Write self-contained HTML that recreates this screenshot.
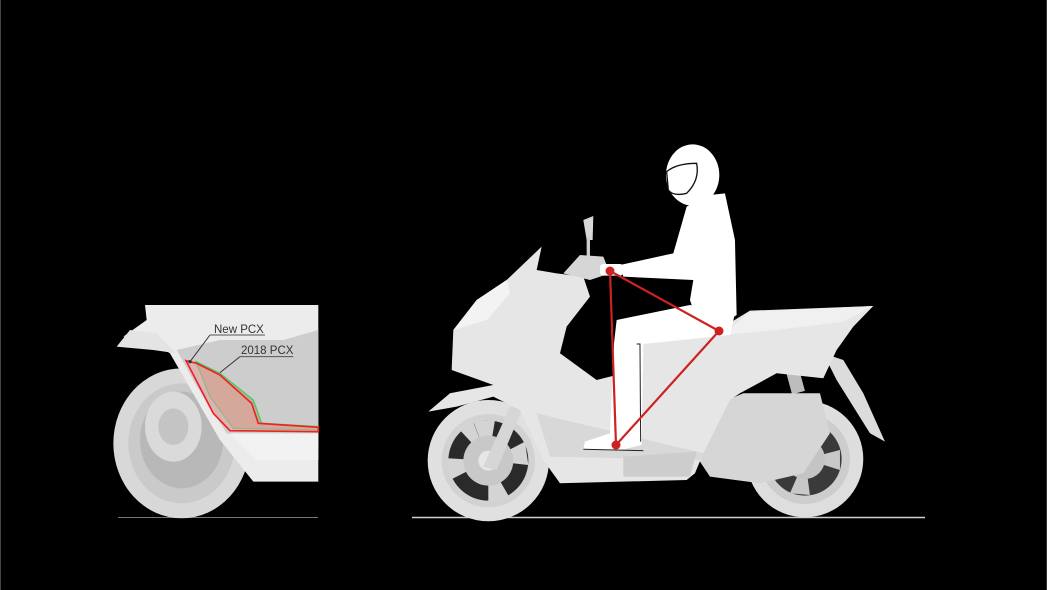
<!DOCTYPE html>
<html><head><meta charset="utf-8"><style>
html,body{margin:0;padding:0;background:#000;}
svg{display:block;}
</style></head><body>
<svg width="1047" height="590" viewBox="0 0 1047 590" xmlns="http://www.w3.org/2000/svg">
<rect width="1047" height="590" fill="#000"/>
<rect x="0" y="0" width="1" height="590" fill="#444"/>
<rect x="1046" y="0" width="1" height="590" fill="#333"/>

<line x1="412" y1="517.5" x2="925" y2="517.5" stroke="#cfcfcf" stroke-width="1.5"/>
<line x1="118" y1="517.5" x2="318" y2="517.5" stroke="#777" stroke-width="1"/>

<g transform="translate(410,140) scale(0.3333)">
  <path d="M1240,640 L1300,660 L1360,760 L1425,905 L1380,880 L1330,800 L1280,720 Z" fill="#dcdcdc"/>
  <rect x="1130" y="650" width="40" height="110" fill="#bdbdbd" transform="rotate(-15 1150 700)"/>
  <!-- rear wheel -->
  <circle cx="1185" cy="957" r="175" fill="#dedede"/>
  <circle cx="1185" cy="957" r="135" fill="#cdcdcd"/>
  <circle cx="1185" cy="957" r="110" fill="#3a3a3a"/>
  <g fill="#c8c8c8">
    <polygon points="1185,957 1140,850 1200,845"/>
    <polygon points="1185,957 1290,930 1290,990"/>
    <polygon points="1185,957 1200,1065 1140,1060"/>
    <polygon points="1185,957 1080,990 1080,930"/>
  </g>
  <circle cx="1185" cy="957" r="60" fill="#c4c4c4"/>
  <!-- front wheel -->
  <circle cx="235" cy="962" r="182" fill="#e0e0e0"/>
  <circle cx="235" cy="962" r="140" fill="#d2d2d2"/>
  <circle cx="235" cy="962" r="120" fill="#2a2a2a"/>
  <g fill="#d4d4d4">
    <polygon points="235,962 190,845 255,840"/>
    <polygon points="235,962 345,905 355,975"/>
    <polygon points="235,962 300,1075 235,1085"/>
    <polygon points="235,962 120,1020 112,955"/>
    <polygon points="235,962 140,860 185,835"/>
  </g>
  <circle cx="235" cy="962" r="75" fill="#c8c8c8"/>
  <circle cx="235" cy="962" r="30" fill="#e6e6e6"/>
  <polygon points="300,800 340,800 260,990 220,980" fill="#d6d6d6"/>
  <!-- engine -->
  <path d="M860,820 L1000,760 L1230,760 L1260,880 L1180,1000 L1050,1030 L900,1010 L860,950 Z" fill="#d6d6d6"/>
  <!-- main body -->
  <path d="M55,815 L120,760 L250,735 L125,690 L130,570 L200,480 L290,420 L395,320 L380,390 L440,400 L520,410 L540,470 L470,560 L450,640 L560,720 L640,700 L690,612 L900,585 L1020,512 L1390,498 L1330,560 L1280,630 L1240,715 L1100,700 L990,760 L960,780 L880,940 L855,1000 L830,1020 L450,1030 L400,960 L330,810 L250,770 L140,800 Z" fill="#e6e6e6"/>
  <path d="M380,820 L880,940 L870,960 L420,950 Z" fill="#d8d8d8"/>
  <path d="M640,950 L860,935 L840,1010 L640,1010 Z" fill="#cdcdcd"/>
  <path d="M130,570 L200,480 L290,420 L300,460 L230,540 Z" fill="#f3f3f3"/>
  <path d="M940,585 L1020,515 L1390,498 L1300,545 L1100,570 Z" fill="#f0f0f0"/>
  <polygon points="520,240 550,228 548,300 530,300" fill="#d8d8d8"/>
  <rect x="530" y="290" width="10" height="70" fill="#cfcfcf"/>
  <polygon points="460,400 510,345 580,350 600,400 540,420" fill="#d6d6d6"/>

  <!-- RIDER -->
  <path d="M830,200 L900,165 L945,160 L975,300 L980,525 L950,545 L850,510 L840,480 L850,420 L640,410 L630,375 L790,340 Z" fill="#fff"/>
  <path d="M620,540 L840,495 L975,520 L960,585 L700,612 L695,915 L625,932 L520,928 L525,905 L600,880 L612,610 Z" fill="#fff"/>
  <path d="M680,612 L690,612 L692,905" stroke="#222" stroke-width="3" fill="none"/>
  <path d="M520,928 L700,932" stroke="#222" stroke-width="3" fill="none"/>
  <ellipse cx="848" cy="105" rx="80" ry="92" fill="#fff"/>
  <path d="M770,95 Q800,70 860,70 Q870,120 830,160 Q790,170 775,150 Z" fill="#fff" stroke="#111" stroke-width="4"/>
  <rect x="570" y="372" width="70" height="35" rx="10" fill="#fff"/>
</g>

<g stroke="#cc2222" stroke-width="2.2" fill="none">
  <line x1="610" y1="271" x2="616" y2="445"/>
  <line x1="610" y1="271" x2="719" y2="331"/>
  <line x1="719" y1="331" x2="616" y2="445"/>
</g>
<g fill="#cc2222">
  <circle cx="610" cy="271" r="4.5"/>
  <circle cx="719" cy="331" r="4.5"/>
  <circle cx="616" cy="445" r="4.5"/>
</g>

<!-- INSET -->
<g transform="translate(110,300) scale(0.3333)">
  <ellipse cx="215" cy="430" rx="205" ry="225" fill="#d8d8d8"/>
  <ellipse cx="215" cy="430" rx="160" ry="180" fill="#cacaca"/>
  <ellipse cx="215" cy="420" rx="125" ry="145" fill="#b8b8b8"/>
  <ellipse cx="190" cy="380" rx="85" ry="105" fill="#dadada"/>
  <ellipse cx="190" cy="380" rx="45" ry="55" fill="#c4c4c4"/>
  <path d="M105,15 L625,15 L625,545 L430,545 L330,420 L180,160 L120,120 L40,110 L110,60 Z" fill="#ececec"/>
  <path d="M20,140 L60,90 L140,100 L200,160 L130,150 Z" fill="#e4e4e4"/>
  <path d="M200,150 L330,120 L520,120 L625,90 L625,440 L350,400 L255,250 Z" fill="#cdcdcd"/>
  <path d="M360,400 L625,400 L625,480 L440,480 Z" fill="#f2f2f2"/>
  <path d="M258,185 L330,220 L430,300 L455,370 L625,380 L625,390 L370,385 L300,290 Z" fill="#b8ad8a" fill-opacity="0.8" stroke="#44cc66" stroke-width="4"/>
  <path d="M228,182 L260,190 L330,225 L425,310 L445,370 L625,382 L625,395 L360,392 L310,340 Z" fill="#e8a0a0" fill-opacity="0.55" stroke="#ee2222" stroke-width="5"/>
  <line x1="240" y1="185" x2="300" y2="105" stroke="#333" stroke-width="3"/>
  <line x1="300" y1="105" x2="465" y2="105" stroke="#555" stroke-width="3"/>
  <line x1="330" y1="218" x2="390" y2="170" stroke="#333" stroke-width="3"/>
  <line x1="390" y1="170" x2="550" y2="170" stroke="#555" stroke-width="3"/>
  <circle cx="240" cy="185" r="5" fill="#333"/>
</g>
<text x="214" y="333" font-family="Liberation Sans, sans-serif" font-size="11.5" fill="#333">New PCX</text>
<text x="241" y="354" font-family="Liberation Sans, sans-serif" font-size="11.5" fill="#333">2018 PCX</text>
</svg>
</body></html>
